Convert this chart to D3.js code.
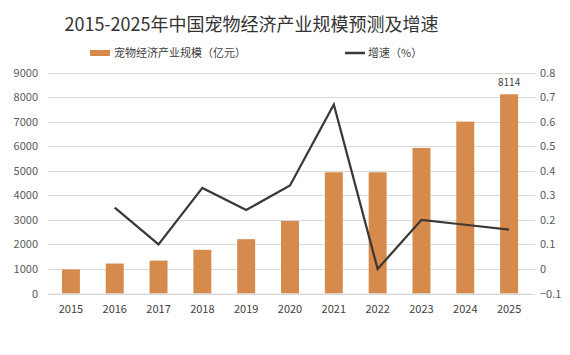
<!DOCTYPE html>
<html><head><meta charset="utf-8">
<script src="https://cdn.jsdelivr.net/npm/d3@7"></script>
<style>body{margin:0;background:#fff}svg{display:block}</style>
</head><body>
<svg id="c" width="570" height="355"></svg>
<script>
const years = ["2015","2016","2017","2018","2019","2020","2021","2022","2023","2024","2025"];
const scaleValues = [978, 1220, 1340, 1780, 2212, 2953, 4936, 4936, 5928, 7000, 8114];
const growthValues = [null, 0.25, 0.10, 0.33, 0.24, 0.34, 0.67, 0.00, 0.20, 0.18, 0.16];
const leftTicks = [0,1000,2000,3000,4000,5000,6000,7000,8000,9000];
const rightTicks = [-0.1,0,0.1,0.2,0.3,0.4,0.5,0.6,0.7,0.8];
const titleText = "2015-2025年中国宠物经济产业规模预测及增速";
const barLegend = "宠物经济产业规模（亿元）";
const lineLegend = "增速（%）";

const svg = d3.select("#c");
const font = "'Noto Sans CJK SC','Noto Sans',sans-serif";
const L = 49, R = 531, T = 72.5, B = 293.5;
const x = d3.scaleBand().domain(years).range([L, R]).paddingInner(0.59).paddingOuter(0.295);
const yL = d3.scaleLinear().domain([0, 9000]).range([B, T]);
const yR = d3.scaleLinear().domain([-0.1, 0.8]).range([B, T]);

// gridlines
svg.append("g").selectAll("line").data(leftTicks).join("line")
  .attr("x1", L-1).attr("x2", R+4)
  .attr("y1", d => Math.round(yL(d))+0.5).attr("y2", d => Math.round(yL(d))+0.5)
  .attr("stroke", "#d9d9d9").attr("stroke-width", 1);

// left axis
const gl = svg.append("g").attr("transform", `translate(${L-1},0)`)
  .call(d3.axisLeft(yL).tickValues(leftTicks).tickSize(0).tickPadding(10).tickFormat(d3.format("d")));
gl.select(".domain").remove();
gl.selectAll("text").attr("font-family", font).attr("font-size", 11).attr("fill", "#595959");

// right axis
const gr = svg.append("g").attr("transform", `translate(${R+4},0)`)
  .call(d3.axisRight(yR).tickValues(rightTicks).tickSize(0).tickPadding(5).tickFormat(d => d3.format("")(+d.toFixed(1))));
gr.select(".domain").remove();
gr.selectAll("text").attr("font-family", font).attr("font-size", 11).attr("fill", "#595959");

// bars
svg.append("g").selectAll("rect").data(years).join("rect")
  .attr("x", d => x(d)).attr("width", x.bandwidth())
  .attr("y", (d,i) => yL(scaleValues[i])).attr("height", (d,i) => B - yL(scaleValues[i]))
  .attr("fill", "#d68a4c");

// x axis
const gx = svg.append("g").attr("transform", `translate(0,${B})`)
  .call(d3.axisBottom(x).tickSize(0).tickPadding(12));
gx.select(".domain").attr("stroke", "#d9d9d9");
gx.selectAll("text").attr("font-family", font).attr("font-size", 11).attr("fill", "#404040");

// line
const lineData = years.map((y,i) => ({y, v: growthValues[i]})).filter(d => d.v !== null);
svg.append("path").datum(lineData)
  .attr("d", d3.line().x(d => x(d.y) + x.bandwidth()/2).y(d => yR(d.v)))
  .attr("fill", "none").attr("stroke", "#3d3833").attr("stroke-width", 2.25).attr("stroke-linejoin", "miter");

// data label
const last = years.length - 1;
svg.append("text").attr("x", x(years[last]) + x.bandwidth()/2).attr("y", yL(scaleValues[last]) - 8)
  .attr("text-anchor", "middle").attr("font-family", font).attr("font-size", 10).attr("fill", "#404040")
  .text(scaleValues[last]);

// title
svg.append("text").attr("x", 251.5).attr("y", 31).attr("text-anchor", "middle")
  .attr("font-family", font).attr("font-size", 18).attr("fill", "#333").text(titleText);

// legend
svg.append("rect").attr("x", 90).attr("y", 50).attr("width", 20).attr("height", 6).attr("fill", "#d68a4c");
svg.append("text").attr("x", 114).attr("y", 57).attr("font-family", font).attr("font-size", 11)
  .attr("fill", "#404040").text(barLegend);
svg.append("line").attr("x1", 345).attr("x2", 365).attr("y1", 53).attr("y2", 53)
  .attr("stroke", "#3d3833").attr("stroke-width", 2.5);
svg.append("text").attr("x", 368).attr("y", 57).attr("font-family", font).attr("font-size", 11)
  .attr("fill", "#404040").text(lineLegend);
</script>
</body></html>
